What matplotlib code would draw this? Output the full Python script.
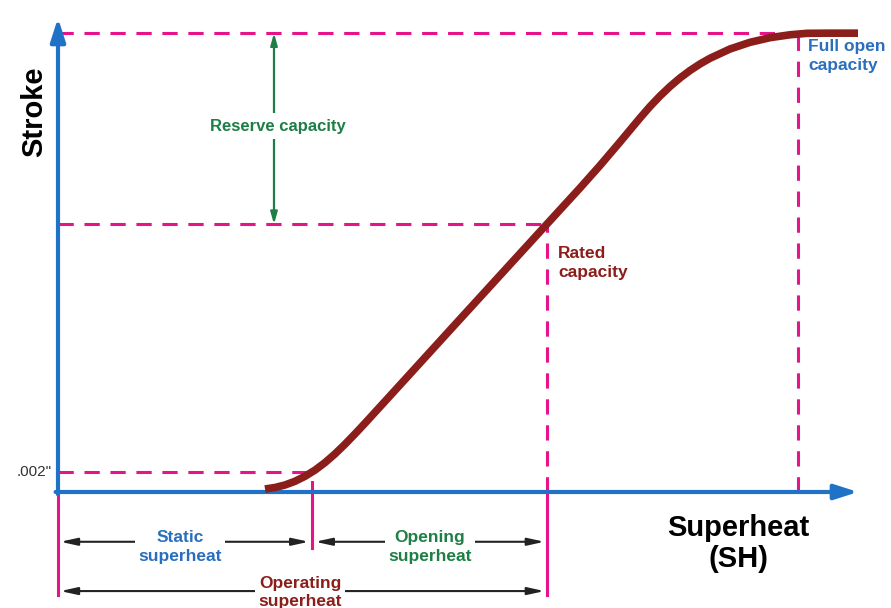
import numpy as np
import matplotlib.pyplot as plt

plt.rcParams['font.family'] = ['Liberation Sans', 'DejaVu Sans']

# Data (superheat %, stroke %)
superheat = [25.875, 27.125, 28.375, 29.625, 30.875, 32.125, 33.375, 34.625, 35.875,
             37.125, 38.375, 42.75, 49.0, 55.25, 61.125, 65.25, 67.75, 70.25, 72.75,
             74.0, 75.25, 76.5, 77.75, 79.0, 80.25, 81.5, 84.0, 86.5, 89.0, 91.5,
             93.625, 96.5, 100.0]
stroke = [0.63, 0.95, 1.48, 2.26, 3.31, 4.62, 6.20, 8.04, 10.08,
          12.26, 14.51, 22.59, 34.16, 45.70, 56.54, 64.14, 68.88, 73.84, 78.90,
          81.33, 83.54, 85.55, 87.34, 88.92, 90.30, 91.50, 93.46, 94.87, 95.85, 96.46,
          96.77, 96.8, 96.8]

full_open_y = 96.8
rated_y = 56.5
min_stroke_y = 4.2
static_x = 31.75
rated_x = 61.1
full_open_x = 92.5

axis_blue = '#1f72c6'
magenta = '#e6138a'
curve_red = '#8b1e1a'
green = '#1d7f45'
label_blue = '#2a6fbe'

fig = plt.figure(figsize=(8.91, 6.08), dpi=100)
ax = fig.add_axes([58 / 891, (608 - 492) / 608, 800 / 891, 474 / 608])
ax.set_xlim(0, 100)
ax.set_ylim(0, 100)
ax.axis('off')

# dashed guide lines
dash = dict(color=magenta, lw=2.2, ls=(0, (5, 3.5)), clip_on=False)
ax.plot([0, full_open_x], [full_open_y, full_open_y], **dash)
ax.plot([0, rated_x], [rated_y, rated_y], **dash)
ax.plot([0, static_x], [min_stroke_y, min_stroke_y], **dash)
ax.plot([rated_x, rated_x], [0, rated_y], **dash)
ax.plot([full_open_x, full_open_x], [0, full_open_y], **dash)

# axes with arrows
ax.annotate('', xy=(0, 100), xytext=(0, -0.5), annotation_clip=False,
            arrowprops=dict(arrowstyle='-|>,head_length=1.4,head_width=0.45',
                            color=axis_blue, lw=3, shrinkA=0, shrinkB=0))
ax.annotate('', xy=(100, 0), xytext=(-0.3, 0), annotation_clip=False,
            arrowprops=dict(arrowstyle='-|>,head_length=1.4,head_width=0.45',
                            color=axis_blue, lw=3, shrinkA=0, shrinkB=0))

# curve
ax.plot(superheat, stroke, color=curve_red, lw=5.5, solid_capstyle='butt',
        solid_joinstyle='round', clip_on=False, zorder=5)

# reserve capacity arrow
ax.annotate('', xy=(27, full_open_y), xytext=(27, rated_y),
            arrowprops=dict(arrowstyle='<|-|>,head_length=0.7,head_width=0.2',
                            color=green, lw=1.6, shrinkA=0, shrinkB=0))
ax.text(27.5, 77.2, 'Reserve capacity', color=green, fontsize=12, fontweight='bold',
        ha='center', va='center', bbox=dict(fc='white', ec='none', pad=4))

# magenta dimension ticks
solid = dict(color=magenta, lw=2.2, clip_on=False)
ax.plot([0, 0], [0, -21.7], **solid)
ax.plot([rated_x, rated_x], [0, -21.7], **solid)
ax.plot([static_x, static_x], [2.1, -11.8], **solid)

dim = dict(arrowstyle='<|-|>,head_length=1.0,head_width=0.22', color='#222222',
           lw=1.5, shrinkA=0, shrinkB=0)
ax.annotate('', xy=(0.3, -10.5), xytext=(static_x - 0.4, -10.5),
            annotation_clip=False, arrowprops=dim)
ax.annotate('', xy=(static_x + 0.4, -10.5), xytext=(rated_x - 0.3, -10.5),
            annotation_clip=False, arrowprops=dim)
ax.annotate('', xy=(0.3, -20.9), xytext=(rated_x - 0.3, -20.9),
            annotation_clip=False, arrowprops=dim)

lbl = dict(fontsize=12.5, fontweight='bold', ha='center', va='center',
           linespacing=1.3, bbox=dict(fc='white', ec='none', pad=2))
ax.text(15.25, -11.6, 'Static\nsuperheat', color=label_blue, **lbl)
ax.text(46.5, -11.6, 'Opening\nsuperheat', color=green, **lbl)
ax.text(30.25, -21.2, 'Operating\nsuperheat', color=curve_red, **lbl)

# other labels
ax.text(-3.0, 80.2, 'Stroke', rotation=90, fontsize=21, fontweight='bold',
        ha='center', va='center')
ax.text(-0.75, min_stroke_y, '.002"', fontsize=11, color='#333333',
        ha='right', va='center')
ax.text(93.75, 95.6, 'Full open\ncapacity', color=label_blue, fontsize=12.5,
        fontweight='bold', ha='left', va='top', linespacing=1.35)
ax.text(62.5, 52.0, 'Rated\ncapacity', color=curve_red, fontsize=12.5,
        fontweight='bold', ha='left', va='top', linespacing=1.35)
ax.text(85, -10.8, 'Superheat\n(SH)', fontsize=21, fontweight='bold',
        ha='center', va='center', linespacing=1.15)

fig.savefig('out.png', dpi=100)
